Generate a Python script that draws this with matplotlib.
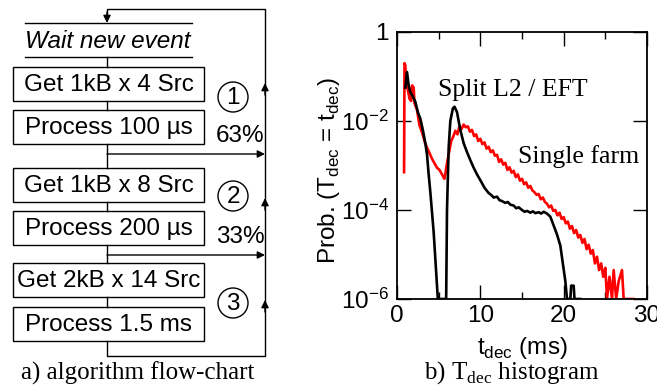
import numpy as np
import matplotlib
matplotlib.use('Agg')
import matplotlib.pyplot as plt
from matplotlib.patches import Rectangle, Circle
from matplotlib.ticker import FixedLocator, FixedFormatter

SANS = 'Liberation Sans'
SERIF = 'Liberation Serif'
plt.rcParams['font.family'] = SANS
plt.rcParams['mathtext.fontset'] = 'custom'
plt.rcParams['mathtext.rm'] = SANS

# Flow-chart contents
box_labels = ['Get 1kB x 4 Src', 'Process 100 \u00b5s',
              'Get 1kB x 8 Src', 'Process 200 \u00b5s',
              'Get 2kB x 14 Src', 'Process 1.5 ms']
step_numbers = ['1', '2', '3']
exit_fractions = ['63%', '33%']

# Histogram of decision time (t in ms, log10 probability)
split_t = [1.0, 1.2, 1.4, 1.6, 1.9, 2.2, 2.5, 2.8, 3.1, 3.4, 3.6, 3.8, 4.0, 4.4, 4.9,
           5.9, 6.0, 6.2, 6.4, 6.7, 6.9, 7.2, 7.6, 8.0, 8.4, 8.8, 9.2, 9.6, 10.0,
           10.5, 11.0, 11.3, 11.6, 12.0, 12.3, 12.6, 13.0, 13.3, 13.6, 14.0, 14.3,
           14.6, 15.0, 15.3, 15.6, 16.0, 16.3, 16.6, 17.0, 17.3, 17.6, 18.0, 18.4,
           18.8, 19.2, 19.6, 19.9, 20.2, 20.4, 20.8, 20.9, 21.2, 21.3, 22.0]
split_logp = [-1.25, -0.9, -1.2, -1.35, -1.45, -1.57, -1.8, -1.95, -2.2, -2.5, -2.75,
              -3.2, -3.6, -4.5, -6.0,
              -6.0, -4.0, -2.6, -2.0, -1.72, -1.68, -1.8, -2.2, -2.5, -2.7, -2.88,
              -3.05, -3.2, -3.33,
              -3.5, -3.62, -3.66, -3.72, -3.7, -3.78, -3.8, -3.84, -3.82, -3.88,
              -3.9, -3.96, -3.94, -4.0, -4.04, -4.02, -4.06, -4.03, -4.07, -4.05,
              -4.08, -4.04, -4.08, -4.15,
              -4.35, -4.55, -4.8, -5.2, -5.6, -6.0, -6.0, -5.7, -5.7, -6.0, -6.0]

single_t = [0.85, 0.9, 1.0, 1.1, 1.3, 1.5, 1.7, 1.8, 2.0, 2.1, 2.4, 2.7, 3.0, 3.3,
            3.6, 3.9, 4.2, 4.5, 4.8, 5.1, 5.4, 5.7,
            6.0, 6.25, 6.5, 6.75, 7.0, 7.25, 7.5, 7.75, 8.0, 8.25, 8.5, 8.75,
            9.0, 9.25, 9.5, 9.75, 10.0, 10.25, 10.5, 10.75, 11.0, 11.25, 11.5, 11.75,
            12.0, 12.25, 12.5, 12.75, 13.0, 13.25, 13.5, 13.75, 14.0, 14.25, 14.5,
            14.75, 15.0, 15.25, 15.5, 15.75, 16.0, 16.25, 16.5, 16.75, 17.0, 17.25,
            17.5, 17.75, 18.0, 18.25, 18.5, 18.75, 19.0, 19.25, 19.5, 19.75, 20.0,
            20.25, 20.5, 20.75, 21.0, 21.25, 21.5, 21.75, 22.0, 22.25, 22.5, 22.75,
            23.0, 23.25, 23.5, 23.75, 24.0, 24.25, 24.5, 24.75, 25.0, 25.2, 25.5,
            25.8, 26.0, 26.3, 26.6, 27.0, 27.2, 28.4]
single_logp = [-3.15, -0.7, -0.75, -1.1, -1.3, -1.5, -1.55, -1.2, -1.25, -1.6, -1.75,
               -2.1, -2.25, -2.45, -2.6, -2.72, -2.85, -2.95, -3.05, -3.1, -3.2, -3.3,
               -2.95, -2.7, -2.45, -2.35, -2.22, -2.3, -2.12, -2.18, -2.08, -2.14,
               -2.12, -2.24, -2.2, -2.34, -2.3, -2.45, -2.4, -2.52, -2.48, -2.62,
               -2.58, -2.7, -2.66, -2.78, -2.76, -2.92, -2.86, -2.98, -2.94, -3.1,
               -3.04, -3.16, -3.12, -3.26, -3.2, -3.34, -3.3, -3.42, -3.38, -3.5,
               -3.46, -3.56, -3.6, -3.66, -3.64, -3.76, -3.72, -3.82, -3.86, -3.94,
               -3.9, -4.02, -4.0, -4.12, -4.06, -4.2, -4.16, -4.3, -4.26, -4.42,
               -4.36, -4.52, -4.45, -4.62, -4.56, -4.74, -4.65, -4.88, -4.78, -4.98,
               -4.9, -5.2, -5.05, -5.35, -5.2, -5.5, -5.3, -6.0, -5.5, -6.0, -5.35,
               -6.0, -5.6, -5.35, -6.0, -6.0]

fig = plt.figure(figsize=(6.57, 3.9), dpi=100)

# ---- a) flow chart, drawn in pixel coordinates ----
fc = fig.add_axes([0, 0, 1, 1])
fc.set_xlim(0, 657)
fc.set_ylim(390, 0)
fc.axis('off')

box_left, box_right = 13, 204
box_tops = [67, 110, 168, 211, 263, 307]
box_h = 34
xc = 107
right_x = 265
lw = 1.0

# wait line
fc.plot([25, 192], [23, 23], color='k', lw=lw)
fc.plot([25, 192], [57, 57], color='k', lw=lw)
fc.text(108, 41, 'Wait new event', style='italic', fontsize=17.5, ha='center', va='center')
fc.plot([xc, xc], [57, box_tops[0]], color='k', lw=lw)

for i, (top, label) in enumerate(zip(box_tops, box_labels)):
    fc.add_patch(Rectangle((box_left, top), box_right - box_left, box_h,
                           fill=False, ec='k', lw=lw))
    fc.text((box_left + box_right) / 2, top + box_h / 2 + 1, label, fontsize=17.5,
            ha='center', va='center')
    if i < len(box_tops) - 1:
        fc.plot([xc, xc], [top + box_h, box_tops[i + 1]], color='k', lw=lw)

# loop back line
fc.plot([xc, xc, right_x, right_x, xc, xc],
        [box_tops[-1] + box_h, 356, 356, 9, 9, 14], color='k', lw=lw)
arrow = dict(arrowstyle='-|>', mutation_scale=11, lw=lw, color='k', shrinkA=0, shrinkB=0)
fc.annotate('', xy=(xc, 23), xytext=(xc, 12), arrowprops=arrow)

# early exits
for y, pct in zip([154, 255], exit_fractions):
    fc.annotate('', xy=(right_x, y), xytext=(xc, y), arrowprops=arrow)
    fc.text(240, y - 18, pct, fontsize=17.5, ha='center', va='center')

# up arrows and step numbers
for y_tip, y_c, num in zip([83, 198, 300], [97, 196, 303], step_numbers):
    fc.annotate('', xy=(right_x, y_tip), xytext=(right_x, y_tip + 12), arrowprops=arrow)
    fc.add_patch(Circle((233, y_c), 15, fill=False, ec='k', lw=lw))
    fc.text(233, y_c + 1, num, fontsize=17.5, ha='center', va='center')

fig.text(138 / 657, 1 - 373 / 390, 'a) algorithm flow-chart', family=SERIF,
         fontsize=18, ha='center', va='center')

# ---- b) histogram ----
ax = fig.add_axes([397 / 657, 91 / 390, 250 / 657, 267 / 390])
ax.plot(single_t, 10 ** np.array(single_logp), color='#ff0000', lw=1.9)
ax.plot(split_t, 10 ** np.array(split_logp), color='k', lw=1.9)
ax.set_yscale('log')
ax.set_xlim(0, 30)
ax.set_ylim(1e-6, 1)

ax.xaxis.set_major_locator(FixedLocator([0, 10, 20, 30]))
ax.xaxis.set_minor_locator(FixedLocator([5, 15, 25]))
ax.yaxis.set_major_locator(FixedLocator([1e-6, 1e-4, 1e-2, 1]))
ax.yaxis.set_major_formatter(FixedFormatter([r'$\mathregular{10^{-6}}$',
                                             r'$\mathregular{10^{-4}}$',
                                             r'$\mathregular{10^{-2}}$', '1']))
ax.yaxis.set_minor_locator(FixedLocator([]))
ax.tick_params(which='both', direction='in', top=True, right=True, labelsize=17.5, width=1)
ax.tick_params(which='major', length=10)
ax.tick_params(which='minor', length=5)
ax.tick_params(axis='x', pad=4)
ax.tick_params(axis='y', pad=6)
for s in ax.spines.values():
    s.set_linewidth(1.3)

ax.set_ylabel(r'Prob. (T$_\mathregular{dec}$ = t$_\mathregular{dec}$)', fontsize=17.5)
ax.yaxis.set_label_coords(-0.222, 0.48)
ax.set_xlabel(r't$_\mathregular{dec}$ (ms)', fontsize=17.5)
ax.xaxis.set_label_coords(0.5, -0.135)

ax.text(4.9, 10 ** -1.3, 'Split L2 / EFT', family=SERIF, fontsize=18.5, va='center')
ax.text(14.5, 10 ** -2.8, 'Single farm', family=SERIF, fontsize=18.5, va='center')

fig.text(512 / 657, 1 - 373 / 390, r'b) T$_\mathregular{dec}$ histogram', family=SERIF,
         fontsize=18, ha='center', va='center')

fig.savefig('out.png', dpi=100)
